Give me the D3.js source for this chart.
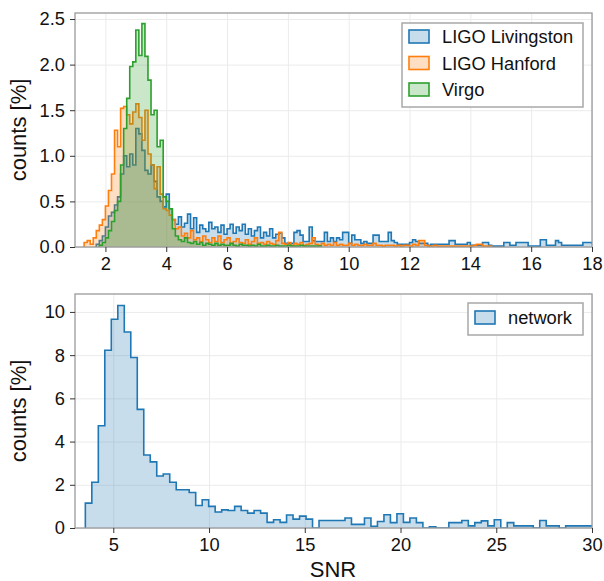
<!DOCTYPE html>
<html>
<head>
<meta charset="utf-8">
<script src="https://cdn.jsdelivr.net/npm/d3@7"></script>
<style>
body { margin: 0; background: #fff; }
svg text { font-family: "Liberation Sans", Arial, Helvetica, sans-serif; fill: #111; }
.grid line { stroke: #ebebeb; stroke-width: 1; }
.grid path { display: none; }
.axis path { display: none; }
.axis line { stroke: #333; }
.axis text { font-size: 18.3px; }
.frame { fill: none; stroke: #9a9a9a; stroke-width: 1.3; }
.axis-label { font-size: 22px; }
.legend-box { fill: #fff; stroke: #a8a8a8; stroke-width: 1.5; }
.legend text { font-size: 18.3px; }
</style>
</head>
<body>
<div id="chart"></div>
<script>

// ---- top panel: per-detector SNR histograms (bin width 0.1, counts in %) ----
var detBinWidth = 0.1;

var livingstonStart = 1.7;
var livingston = [
  0.03,0.07,0.12,0.22,0.34,0.38,0.46,0.55,0.8,1.0,
  0.88,1.02,0.9,1.3,1.24,1.06,0.84,0.8,0.9,0.72,
  0.55,0.5,0.44,0.58,0.42,0.3,0.25,0.33,0.22,0.26,
  0.36,0.2,0.32,0.16,0.24,0.2,0.17,0.27,0.2,0.22,
  0.16,0.24,0.14,0.2,0.25,0.15,0.22,0.18,0.25,0.14,
  0.2,0.12,0.18,0.22,0.1,0.16,0.12,0.2,0.1,0.14,
  0.15,0.1,0.04,0.04,0.04,0.16,0.18,0.13,0.06,0.06,
  0.22,0.07,0.06,0.06,0.06,0.16,0.06,0.1,0.06,0.1,
  0.08,0.16,0.16,0.04,0.13,0.08,0.08,0.04,0.06,0.04,
  0.04,0.13,0.13,0.06,0.06,0.06,0.16,0.07,0.05,0.03,
  0.03,0.03,0.03,0.05,0.08,0.06,0.04,0.04,0.04,0.02,
  0.03,0.03,0.03,0.03,0.03,0.03,0.07,0.07,0.03,0.03,
  0.03,0.03,0.05,0.02,0.02,0.02,0.02,0.05,0.05,0.02,
  0.01,0.01,0.01,0.01,0.05,0.05,0.02,0.02,0.05,0.05,
  0.05,0.05,0.01,0.01,0.01,0.01,0.08,0.08,0.02,0.02,
  0.02,0.07,0.05,0.02,0.02,0.02,0.02,0.02,0.02,0.02,
  0.05,0.05,0.05,0.04
];

var hanfordStart = 1.3;
var hanford = [
  0.05,0.07,0.03,0.1,0.18,0.24,0.3,0.45,0.62,0.8,
  1.28,1.1,1.52,1.54,1.45,1.35,1.48,1.57,1.42,1.17,
  1.5,1.02,0.9,0.64,0.88,0.58,0.42,0.4,0.35,0.3,
  0.2,0.22,0.12,0.15,0.1,0.18,0.08,0.1,0.06,0.12,
  0.08,0.05,0.1,0.06,0.12,0.05,0.08,0.1,0.04,0.06,
  0.09,0.05,0.04,0.08,0.03,0.06,0.1,0.04,0.05,0.03,
  0.06,0.04,0.03,0.07,0.16,0.04,0.03,0.05,0.02,0.04,
  0.03,0.05,0.02,0.03,0.04,0.1,0.03,0.02,0.04,0.02,
  0.03,0.02,0.05,0.02,0.03,0.02,0.02,0.04,0.02,0.03,
  0.02,0.02,0.03,0.02,0.02,0.04,0.02,0.02,0.01,0.02,
  0.02,0.02,0.01,0.02,0.01,0.02,0.02,0.01,0.03,0.02,
  0.07,0.07,0.02,0.01,0.01,0.02,0.01,0.01,0.01,0.01,
  0.01,0.01,0.01,0.01,0.01,0.01,0.01,0.01,0.02,0.03,
  0.03,0.01,0.01,0.01
];

var virgoStart = 1.8;
var virgo = [
  0.02,0.05,0.1,0.18,0.28,0.4,0.5,0.9,1.3,1.63,
  1.98,2.03,2.38,2.1,2.45,2.09,1.83,1.45,1.5,1.1,
  1.17,0.55,0.5,0.42,0.2,0.12,0.08,0.06,0.1,0.05,
  0.04,0.06,0.03,0.05,0.02,0.04,0.03,0.02,0.04,0.02,
  0.03,0.02,0.02,0.04,0.02,0.01,0.03,0.02,0.02,0.01,
  0.02,0.01,0.03,0.01,0.01,0.02,0.01,0.01,0.02,0.01,
  0.01,0.01,0.02,0.01,0.01,0.01,0.02,0.01,0.01,0.01,
  0.01,0.01,0.01
];

// ---- bottom panel: network SNR histogram ----
var networkStart = 3.54;
var networkBinWidth = 0.339;
var network = [
  1.15,2.12,4.73,8.23,9.66,10.3,9.07,7.89,5.49,3.38,
  3.06,2.41,2.5,2.12,1.77,1.77,1.64,1.04,1.31,1.0,
  0.74,0.84,0.81,1.0,0.81,0.69,0.81,0.69,0.26,0.38,
  0.26,0.6,0.41,0.55,0.41,0,0.35,0.35,0.35,0.35,
  0.46,0.17,0.17,0.46,0.08,0.3,0.61,0.25,0.66,0.26,
  0.46,0.25,0,0.05,0,0,0.25,0.25,0.35,0.1,
  0.25,0.33,0.1,0.38,0,0.25,0.1,0.1,0.1,0,
  0.35,0.1,0.1,0,0.1,0.1,0.1,0.1,0.1
];

// tick values
var topXTicks = [2, 4, 6, 8, 10, 12, 14, 16, 18];
var topYTicks = [0, 0.5, 1.0, 1.5, 2.0, 2.5];
var botXTicks = [5, 10, 15, 20, 25, 30];
var botYTicks = [0, 2, 4, 6, 8, 10];

var colors = { livingston: "#1f77b4", hanford: "#ff7f0e", virgo: "#2ca02c" };

var W = 604, H = 581;
var svg = d3.select("#chart").append("svg")
  .attr("width", W)
  .attr("height", H);


/*
 * HistPanel - one axes with step-filled histograms
 */
HistPanel = function(_svg, _box, _xDomain, _yDomain, _xTicks, _yTicks, _yFormat, _series, _id){
  this.svg = _svg;
  this.box = _box;
  this.xDomain = _xDomain;
  this.yDomain = _yDomain;
  this.xTicks = _xTicks;
  this.yTicks = _yTicks;
  this.yFormat = _yFormat;
  this.series = _series;
  this.id = _id;
  this.initVis();
}

HistPanel.prototype.initVis = function(){
  var vis = this;
  vis.width = vis.box.right - vis.box.left;
  vis.height = vis.box.bottom - vis.box.top;

  vis.g = vis.svg.append("g")
    .attr("transform", "translate(" + vis.box.left + "," + vis.box.top + ")");

  vis.x = d3.scaleLinear().domain(vis.xDomain).range([0, vis.width]);
  vis.y = d3.scaleLinear().domain(vis.yDomain).range([vis.height, 0]);

  // grid
  vis.g.append("g")
    .attr("class", "grid")
    .attr("transform", "translate(0," + vis.height + ")")
    .call(d3.axisBottom(vis.x).tickValues(vis.xTicks).tickSize(-vis.height).tickFormat(""));
  vis.g.append("g")
    .attr("class", "grid")
    .call(d3.axisLeft(vis.y).tickValues(vis.yTicks).tickSize(-vis.width).tickFormat(""));

  vis.g.append("clipPath")
    .attr("id", "clip-" + vis.id)
    .append("rect")
    .attr("width", vis.width)
    .attr("height", vis.height);

  vis.plot = vis.g.append("g").attr("clip-path", "url(#clip-" + vis.id + ")");

  vis.updateVis();

  // frame
  vis.g.append("rect")
    .attr("class", "frame")
    .attr("width", vis.width)
    .attr("height", vis.height);

  // axes
  vis.xAxis = d3.axisBottom(vis.x).tickValues(vis.xTicks).tickSize(5).tickPadding(5);
  vis.yAxis = d3.axisLeft(vis.y).tickValues(vis.yTicks).tickSize(5).tickPadding(5).tickFormat(vis.yFormat);

  vis.g.append("g")
    .attr("class", "axis")
    .attr("transform", "translate(0," + vis.height + ")")
    .call(vis.xAxis);
  vis.g.append("g")
    .attr("class", "axis")
    .call(vis.yAxis);

  vis.g.append("text")
    .attr("class", "axis-label")
    .attr("text-anchor", "middle")
    .attr("transform", "translate(" + (-49) + "," + (vis.height / 2) + ") rotate(-90)")
    .text("counts [%]");
}

HistPanel.prototype.updateVis = function(){
  var vis = this;

  vis.series.forEach(function(s){
    var pts = s.values.map(function(v, i){ return { x: s.start + i * s.width, y: v }; });
    var xEnd = s.start + s.values.length * s.width;
    pts.push({ x: xEnd, y: s.values[s.values.length - 1] });

    var area = d3.area()
      .curve(d3.curveStepAfter)
      .x(function(d){ return vis.x(d.x); })
      .y0(vis.y(0))
      .y1(function(d){ return vis.y(d.y); });

    var outline = [{ x: s.start, y: 0 }].concat(pts).concat([{ x: xEnd, y: 0 }]);
    var line = d3.line()
      .curve(d3.curveStepAfter)
      .x(function(d){ return vis.x(d.x); })
      .y(function(d){ return vis.y(d.y); });

    vis.plot.append("path")
      .datum(pts)
      .attr("d", area)
      .attr("fill", s.color)
      .attr("fill-opacity", 0.25);

    vis.plot.append("path")
      .datum(outline)
      .attr("d", line)
      .attr("fill", "none")
      .attr("stroke", s.color)
      .attr("stroke-width", 1.6)
      .attr("stroke-linejoin", "miter");
  });
}

HistPanel.prototype.legend = function(box){
  var vis = this;
  var lg = vis.svg.append("g").attr("class", "legend");
  lg.append("rect")
    .attr("class", "legend-box")
    .attr("x", box.x).attr("y", box.y)
    .attr("width", box.w).attr("height", box.h);

  vis.series.forEach(function(s, i){
    var cy = box.y + box.first + i * box.step;
    lg.append("rect")
      .attr("x", box.x + 7).attr("y", cy - 7)
      .attr("width", 20).attr("height", 13)
      .attr("fill", d3.interpolateRgb("#ffffff", s.color)(0.25))
      .attr("stroke", s.color)
      .attr("stroke-width", 1.6);
    lg.append("text")
      .attr("x", box.x + 40).attr("y", cy)
      .attr("dy", "0.35em")
      .text(s.name);
  });
}


var fmt1 = d3.format(".1f");

var topPanel = new HistPanel(svg, { left: 75, right: 592, top: 13, bottom: 247 },
  [1, 18], [0, 2.566], topXTicks, topYTicks, fmt1, [
    { name: "LIGO Livingston", values: livingston, start: livingstonStart, width: detBinWidth, color: colors.livingston },
    { name: "LIGO Hanford", values: hanford, start: hanfordStart, width: detBinWidth, color: colors.hanford },
    { name: "Virgo", values: virgo, start: virgoStart, width: detBinWidth, color: colors.virgo }
  ], "top");
topPanel.legend({ x: 402, y: 23, w: 181, h: 84, first: 14, step: 26.5 });

var bottomPanel = new HistPanel(svg, { left: 75, right: 592, top: 294, bottom: 528 },
  [3, 30], [0, 10.83], botXTicks, botYTicks, d3.format("d"), [
    { name: "network", values: network, start: networkStart, width: networkBinWidth, color: colors.livingston }
  ], "bottom");
bottomPanel.legend({ x: 468, y: 303, w: 115, h: 32, first: 15, step: 26.5 });

svg.append("text")
  .attr("class", "axis-label")
  .attr("x", 333)
  .attr("y", 577)
  .attr("text-anchor", "middle")
  .text("SNR");

</script>
</body>
</html>
